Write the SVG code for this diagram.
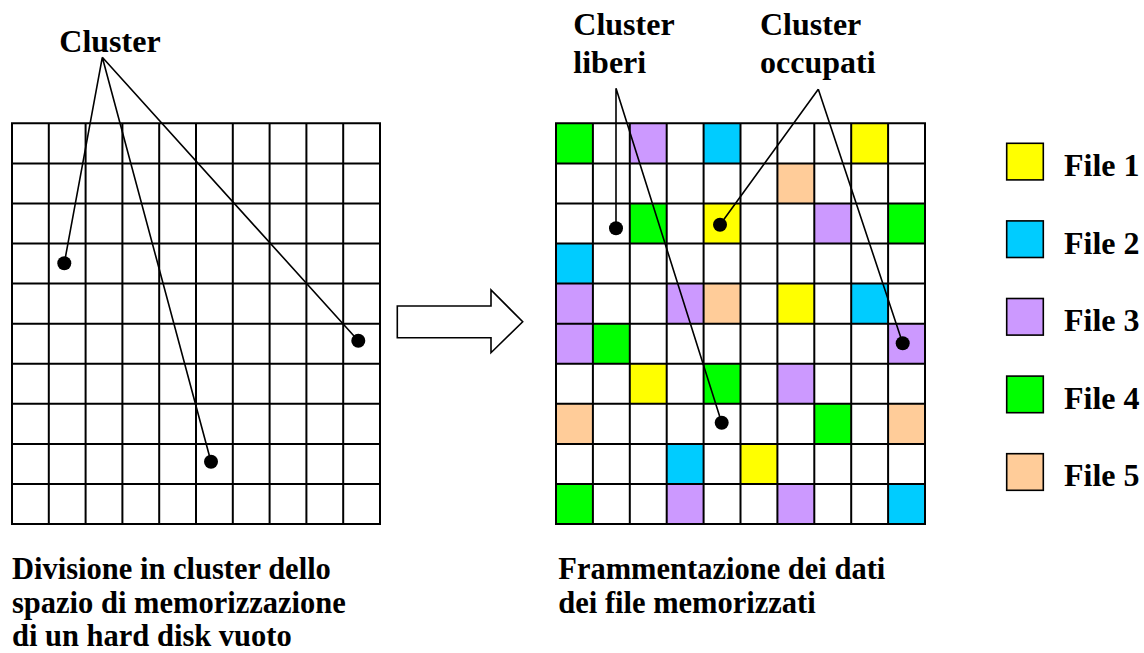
<svg xmlns="http://www.w3.org/2000/svg" width="1144" height="653" viewBox="0 0 1144 653">
  <style>
    .lbl { font-family: "Liberation Serif", "Times New Roman", serif; font-weight: bold; fill: #000; }
    .top { font-size: 32px; }
    .cap { font-size: 30.5px; }
    .grid { fill: none; stroke: #000; stroke-width: 2; }
    .lead { fill: none; stroke: #000; stroke-width: 1.6; }
    .dot { fill: #000; }
    .f1 { fill: #FFFF00; }
    .f2 { fill: #00CCFF; }
    .f3 { fill: #CC99FF; }
    .f4 { fill: #00FF00; }
    .f5 { fill: #FFCC99; }
    .key { stroke: #000; stroke-width: 1.6; }
  </style>
  <defs>
    <pattern id="cells-left" x="12" y="123.3" width="36.8" height="40.07" patternUnits="userSpaceOnUse">
      <path d="M0 0 H36.8 M0 0 V40.07" stroke="#000" stroke-width="2" fill="none"/>
    </pattern>
  </defs>
  <rect width="1144" height="653" fill="#fff"/>

  <!-- empty disk: 10x10 clusters -->
  <g id="grid-empty">
    <path class="grid" d="M12 123.3 H380 V524 H12 Z
      M48.8 123.3 V524 M85.6 123.3 V524 M122.4 123.3 V524 M159.2 123.3 V524 M196 123.3 V524
      M232.8 123.3 V524 M269.6 123.3 V524 M306.4 123.3 V524 M343.2 123.3 V524
      M12 163.4 H380 M12 203.4 H380 M12 243.5 H380 M12 283.6 H380 M12 323.7 H380
      M12 363.7 H380 M12 403.8 H380 M12 443.9 H380 M12 483.9 H380"/>
  </g>

  <!-- fragmented disk: occupied clusters coloured by file -->
  <g id="grid-fragmented">
    <g transform="translate(556 123.3)">
      <!-- row 0 -->
      <rect class="f4" x="0" y="0" width="36.9" height="40.07"/>
      <rect class="f3" x="73.8" y="0" width="36.9" height="40.07"/>
      <rect class="f2" x="147.6" y="0" width="36.9" height="40.07"/>
      <rect class="f1" x="295.2" y="0" width="36.9" height="40.07"/>
      <!-- row 1 -->
      <rect class="f5" x="221.4" y="40.07" width="36.9" height="40.07"/>
      <!-- row 2 -->
      <rect class="f4" x="73.8" y="80.14" width="36.9" height="40.07"/>
      <rect class="f1" x="147.6" y="80.14" width="36.9" height="40.07"/>
      <rect class="f3" x="258.3" y="80.14" width="36.9" height="40.07"/>
      <rect class="f4" x="332.1" y="80.14" width="36.9" height="40.07"/>
      <!-- row 3 -->
      <rect class="f2" x="0" y="120.21" width="36.9" height="40.07"/>
      <!-- row 4 -->
      <rect class="f3" x="0" y="160.28" width="36.9" height="40.07"/>
      <rect class="f3" x="110.7" y="160.28" width="36.9" height="40.07"/>
      <rect class="f5" x="147.6" y="160.28" width="36.9" height="40.07"/>
      <rect class="f1" x="221.4" y="160.28" width="36.9" height="40.07"/>
      <rect class="f2" x="295.2" y="160.28" width="36.9" height="40.07"/>
      <!-- row 5 -->
      <rect class="f3" x="0" y="200.35" width="36.9" height="40.07"/>
      <rect class="f4" x="36.9" y="200.35" width="36.9" height="40.07"/>
      <rect class="f3" x="332.1" y="200.35" width="36.9" height="40.07"/>
      <!-- row 6 -->
      <rect class="f1" x="73.8" y="240.42" width="36.9" height="40.07"/>
      <rect class="f4" x="147.6" y="240.42" width="36.9" height="40.07"/>
      <rect class="f3" x="221.4" y="240.42" width="36.9" height="40.07"/>
      <!-- row 7 -->
      <rect class="f5" x="0" y="280.49" width="36.9" height="40.07"/>
      <rect class="f4" x="258.3" y="280.49" width="36.9" height="40.07"/>
      <rect class="f5" x="332.1" y="280.49" width="36.9" height="40.07"/>
      <!-- row 8 -->
      <rect class="f2" x="110.7" y="320.56" width="36.9" height="40.07"/>
      <rect class="f1" x="184.5" y="320.56" width="36.9" height="40.07"/>
      <!-- row 9 -->
      <rect class="f4" x="0" y="360.63" width="36.9" height="40.07"/>
      <rect class="f3" x="110.7" y="360.63" width="36.9" height="40.07"/>
      <rect class="f3" x="221.4" y="360.63" width="36.9" height="40.07"/>
      <rect class="f2" x="332.1" y="360.63" width="36.9" height="40.07"/>
    </g>
    <path class="grid" d="M556 123.3 H925 V524 H556 Z
      M592.9 123.3 V524 M629.8 123.3 V524 M666.7 123.3 V524 M703.6 123.3 V524 M740.5 123.3 V524
      M777.4 123.3 V524 M814.3 123.3 V524 M851.2 123.3 V524 M888.1 123.3 V524
      M556 163.4 H925 M556 203.4 H925 M556 243.5 H925 M556 283.6 H925 M556 323.7 H925
      M556 363.7 H925 M556 403.8 H925 M556 443.9 H925 M556 483.9 H925"/>
  </g>

  <!-- block arrow between the two disks -->
  <g id="arrow">
    <path d="M397.3 306 H491 V290 L522.7 321.7 L491 352.7 V337.7 H397.3 Z" fill="#fff" stroke="#000" stroke-width="1.6" stroke-linejoin="miter"/>
  </g>

  <!-- leader lines and dots -->
  <g id="connectors">
    <path class="lead" d="M102.3 57.3 L64.3 263.3 M102.3 57.3 L211 461.7 M102.3 57.3 L358.3 340.7"/>
    <circle class="dot" cx="64.3" cy="263.3" r="7"/>
    <circle class="dot" cx="211" cy="461.7" r="7"/>
    <circle class="dot" cx="358.3" cy="340.7" r="7"/>

    <path class="lead" d="M616 88.3 L616 228.3 M616 88.3 L721.7 422.7"/>
    <circle class="dot" cx="616" cy="228.3" r="7"/>
    <circle class="dot" cx="721.7" cy="422.7" r="7"/>

    <path class="lead" d="M818.3 89.3 L720 224.7 M818.3 89.3 L902.7 343.3"/>
    <circle class="dot" cx="720" cy="224.7" r="7"/>
    <circle class="dot" cx="902.7" cy="343.3" r="7"/>
  </g>

  <g id="label-cluster">
    <text class="lbl top" x="59.3" y="52.3">Cluster</text>
  </g>
  <g id="label-liberi">
    <text class="lbl top" x="573.3" y="35">Cluster</text>
    <text class="lbl top" x="573.3" y="73.3">liberi</text>
  </g>
  <g id="label-occupati">
    <text class="lbl top" x="760" y="35">Cluster</text>
    <text class="lbl top" x="760" y="73.3">occupati</text>
  </g>

  <g id="caption-empty">
    <text class="lbl cap" x="12" y="579.3">Divisione in cluster dello</text>
    <text class="lbl cap" x="12" y="612.5">spazio di memorizzazione</text>
    <text class="lbl cap" x="12" y="645.7">di un hard disk vuoto</text>
  </g>
  <g id="caption-fragmented">
    <text class="lbl cap" x="558.3" y="579.3">Frammentazione dei dati</text>
    <text class="lbl cap" x="558.3" y="612.5">dei file memorizzati</text>
  </g>

  <!-- legend -->
  <g id="legend-file1">
    <rect class="f1 key" x="1006.7" y="143.3" width="36.6" height="36.6"/>
    <text class="lbl top" x="1064" y="176">File 1</text>
  </g>
  <g id="legend-file2">
    <rect class="f2 key" x="1006.7" y="220.9" width="36.6" height="36.6"/>
    <text class="lbl top" x="1064" y="253.6">File 2</text>
  </g>
  <g id="legend-file3">
    <rect class="f3 key" x="1006.7" y="298.5" width="36.6" height="36.6"/>
    <text class="lbl top" x="1064" y="331.2">File 3</text>
  </g>
  <g id="legend-file4">
    <rect class="f4 key" x="1006.7" y="376.1" width="36.6" height="36.6"/>
    <text class="lbl top" x="1064" y="408.8">File 4</text>
  </g>
  <g id="legend-file5">
    <rect class="f5 key" x="1006.7" y="453.7" width="36.6" height="36.6"/>
    <text class="lbl top" x="1064" y="486.4">File 5</text>
  </g>
</svg>
